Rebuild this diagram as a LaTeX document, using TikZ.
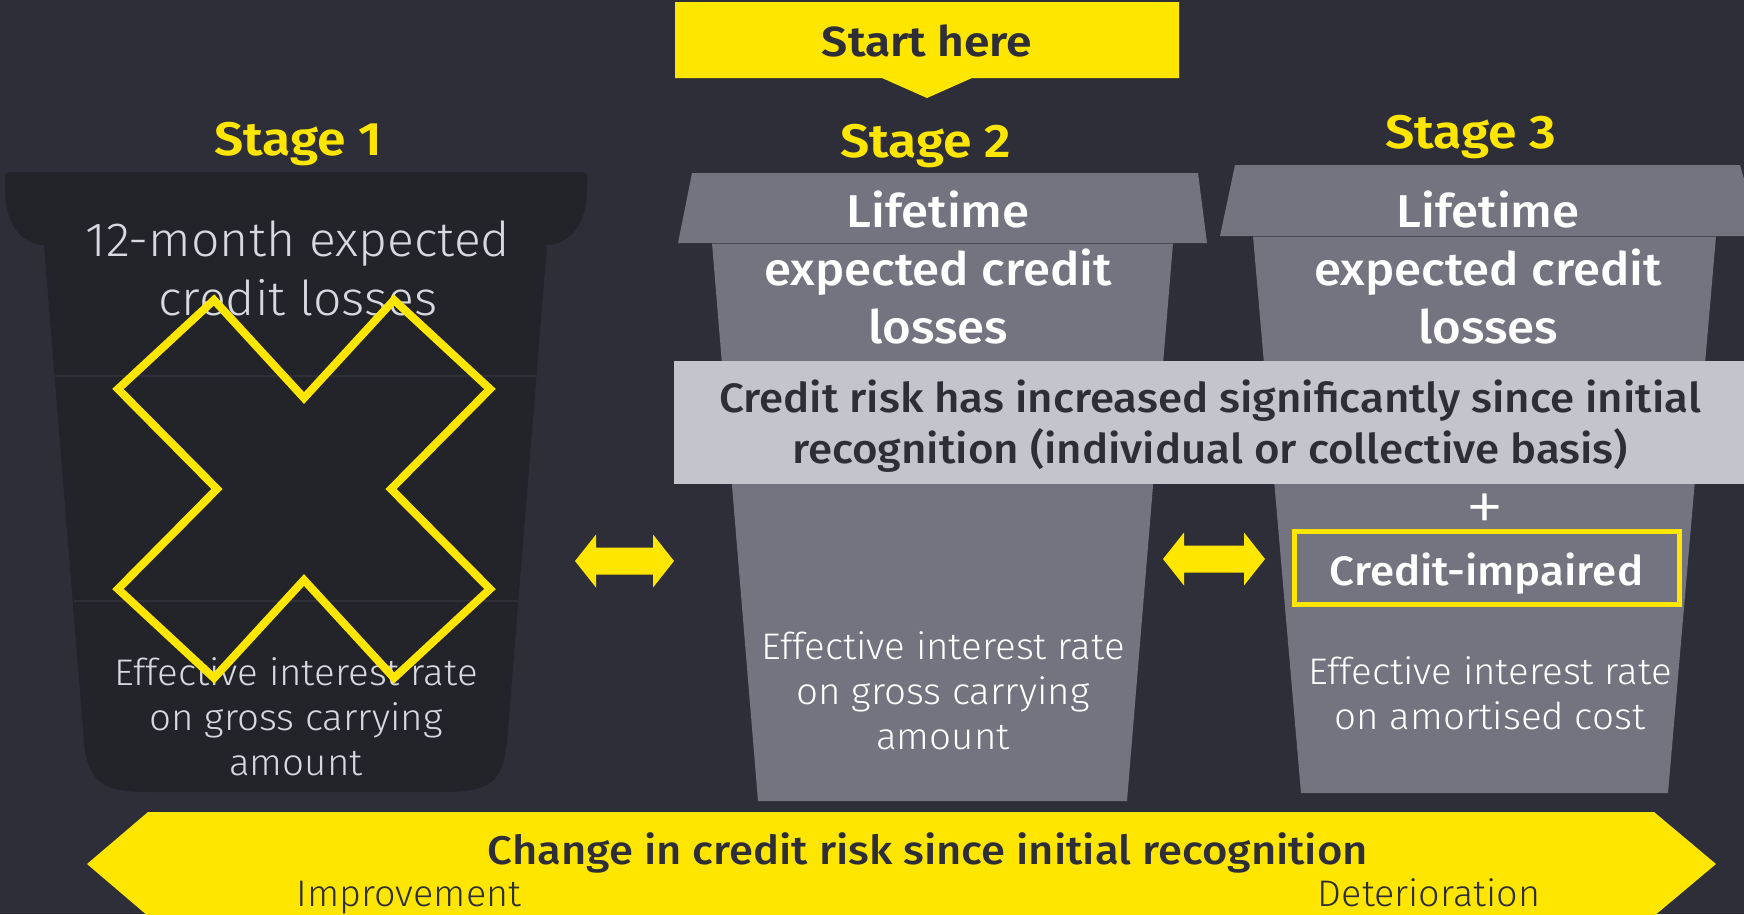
\documentclass[tikz,border=0pt]{standalone}
\usepackage{fontspec}
\setmainfont{Fira Sans}
\newfontfamily\flight[FakeStretch=1.04]{Fira Sans Light}
\newfontfamily\fmed[FakeStretch=1.07]{Fira Sans Medium}
\newfontfamily\fsemi[FakeStretch=1.1]{Fira Sans SemiBold}
\newfontfamily\fwidemed[FakeStretch=1.09]{Fira Sans Medium}
\newfontfamily\fwidelight[FakeStretch=1.02]{Fira Sans Light}

\definecolor{bg}{HTML}{2E2E38}
\definecolor{cupdark}{HTML}{23232A}
\definecolor{cupline}{HTML}{2F2F37}
\definecolor{cupgrey}{HTML}{747480}
\definecolor{bandgrey}{HTML}{C4C4CD}
\definecolor{eyyellow}{HTML}{FFE600}
\definecolor{softwhite}{HTML}{D8D8E0}

\tikzset{
  stagelabel/.style={text=eyyellow, font=\fsemi\fontsize{47}{54}\selectfont, inner sep=0},
  darktxt/.style={text=softwhite, align=center, inner sep=0},
  lifetxt/.style={text=white, align=center, inner sep=0, font=\fmed\fontsize{46}{58}\selectfont},
  eirtxt/.style={align=center, inner sep=0, font=\flight\fontsize{37}{45}\selectfont},
  bandtxt/.style={text=bg, align=center, inner sep=0, font=\fmed\fontsize{41}{51}\selectfont},
  scaletxt/.style={text=bg, inner sep=0, anchor=base},
}

\begin{document}
\begin{tikzpicture}[x=1pt, y=-1pt]
  % canvas
  \fill[bg] (0,0) rectangle (1744,914);
  \useasboundingbox (0,0) rectangle (1744,914);

  % start banner with pointer
  \fill[eyyellow] (675,2) -- (1179,2) -- (1179,78) -- (972,78) -- (927,98) -- (882,78) -- (675,78) -- cycle;
  \node[text=bg, font=\fsemi\fontsize{42}{48}\selectfont, inner sep=0] (start) at (927,41) {Start here};

  % stage headings
  \node[stagelabel] (st1) at (298,144) {Stage 1};
  \node[stagelabel] (st2) at (926,146) {Stage 2};
  \node[stagelabel] (st3) at (1471,137) {Stage 3};

  % stage 1 cup (dark)
  \fill[cupdark] (5,178) -- (5,188) .. controls (5,232) and (28,245) .. (44,245)
    -- (84,742) .. controls (88,788) and (110,792) .. (150,792) -- (442,792)
    .. controls (482,792) and (503,788) .. (507,742) -- (547,245)
    .. controls (563,245) and (587,232) .. (587,188) -- (587,178)
    .. controls (587,173) and (586,172) .. (581,172) -- (11,172)
    .. controls (6,172) and (5,173) .. (5,178) -- cycle;
  \draw[cupline, line width=2] (55,376) -- (536,376);
  \draw[cupline, line width=2] (74,601) -- (518,601);

  % stage 2 cup
  \fill[cupgrey] (712,243) -- (1173,243) -- (1127,801) -- (758,801) -- cycle;
  \fill[cupgrey] (692,173) -- (1198,173) -- (1207,243) -- (678,243) -- cycle;
  \draw[bg!60!cupgrey, line width=1] (712,243) -- (1173,243);

  % stage 3 cup
  \fill[cupgrey] (1253,236) -- (1716,236) -- (1668,793) -- (1301,793) -- cycle;
  \fill[cupgrey] (1235,165) -- (1740,165) -- (1760,236) -- (1220,236) -- cycle;
  \draw[bg!60!cupgrey, line width=1] (1253,236) -- (1716,236);

  % significant increase band
  \fill[bandgrey] (674,361) rectangle (1744,484);
  \node[bandtxt] (band) at (1210,426) {Credit risk has increased significantly since initial\\recognition (individual or collective basis)};

  % stage 1 texts
  \node[darktxt, font=\flight\fontsize{48}{59}\selectfont] (s1top) at (298,268) {12-month expected\\credit losses};
  \node[eirtxt, text=softwhite] (s1eir) at (296,717) {Effective interest rate\\on gross carrying\\amount};

  % stage 2 texts
  \node[lifetxt] (s2top) at (938,268) {Lifetime\\expected credit\\losses};
  \node[eirtxt, text=white] (s2eir) at (943,691) {Effective interest rate\\on gross carrying\\amount};

  % stage 3 texts
  \node[lifetxt] (s3top) at (1488,268) {Lifetime\\expected credit\\losses};
  \node[text=white, font=\flight\fontsize{76}{80}\selectfont, inner sep=0] (plus) at (1485,513) {+};
  \node[draw=eyyellow, line width=5, minimum width=385, minimum height=73, inner sep=0,
        text height=36, text depth=0,
        text=white, font=\fmed\fontsize{41}{46}\selectfont] (ci) at (1486.5,567.5) {Credit-impaired};
  \node[eirtxt, text=white] (s3eir) at (1490,693) {Effective interest rate\\on amortised cost};

  % crossed-out marker over stage 1
  \begin{scope}[shift={(304,489)}]
    \draw[eyyellow, line width=8, line join=miter]
      (0,-91) -- (90,-189) -- (186,-100) -- (87,0) -- (186,100) -- (90,189)
      -- (0,91) -- (-90,189) -- (-186,100) -- (-87,0) -- (-186,-100) -- (-90,-189) -- cycle;
  \end{scope}

  % two-way transfers between stages
  \coordinate (a1) at (575,561);
  \coordinate (a2) at (1163,559);
  \foreach \c/\len in {a1/99, a2/102} {
    \fill[eyyellow] (\c) -- ++(21,-26.5) -- ++(0,13) -- ++(\len-42,0) -- ++(0,-13)
      -- ++(21,26.5) -- ++(-21,26.5) -- ++(0,-13) -- ++(-\len+42,0) -- ++(0,13) -- cycle;
  }

  % credit-risk scale
  \fill[eyyellow] (87,864) -- (148,812) -- (1654,812) -- (1716,864) -- (1654,916) -- (148,916) -- cycle;
  \node[scaletxt, font=\fwidemed\fontsize{40}{48}\selectfont] (scale) at (928,864) {Change in credit risk since initial recognition};
  \node[scaletxt, font=\fwidelight\fontsize{37}{44}\selectfont] (impr) at (409,906) {Improvement};
  \node[scaletxt, font=\fwidelight\fontsize{37}{44}\selectfont] (det) at (1429,906) {Deterioration};
\end{tikzpicture}
\end{document}
